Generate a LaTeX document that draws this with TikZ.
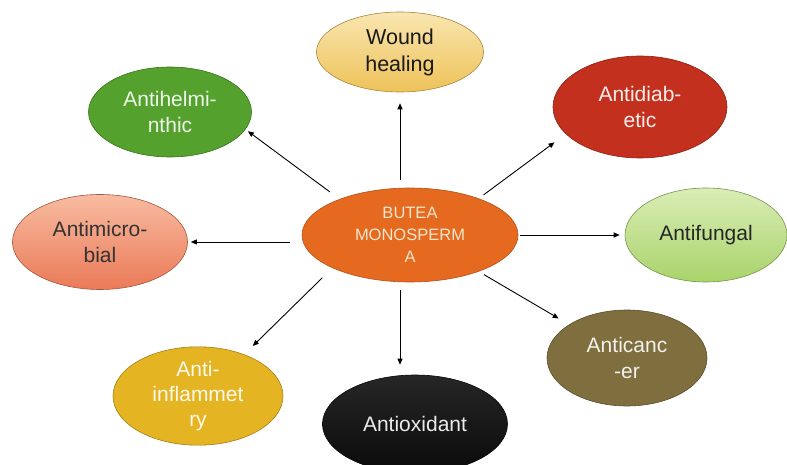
\documentclass[tikz,border=0pt]{standalone}
\usepackage{fontspec}
\setmainfont{Liberation Sans}
\usetikzlibrary{arrows.meta,shapes.geometric}
\definecolor{coreOrange}{HTML}{E5691F}
\definecolor{coreEdge}{HTML}{B4501A}
\definecolor{creamText}{HTML}{F6E6CC}
\definecolor{woundTop}{HTML}{F9E6B0}
\definecolor{woundBot}{HTML}{EEC259}
\definecolor{helmGreen}{HTML}{55A12E}
\definecolor{diabRed}{HTML}{C3301D}
\definecolor{microTop}{HTML}{F8BBA0}
\definecolor{microBot}{HTML}{EA7A58}
\definecolor{fungTop}{HTML}{DAEDB6}
\definecolor{fungBot}{HTML}{A9D36A}
\definecolor{cancOlive}{HTML}{7F6F3F}
\definecolor{inflYellow}{HTML}{E4B423}
\definecolor{oxidBlack}{HTML}{0A0A0A}

\tikzset{
  effect/.style={ellipse,draw=#1!70!black,line width=0.6pt,inner sep=0pt,align=center,
    font=\fontsize{21}{25.5}\selectfont},
  effect/.default=black,
  link/.style={-{Triangle[length=6pt,width=5pt]},line width=0.9pt,shorten <=8pt,shorten >=8pt}
}

\begin{document}
\begin{tikzpicture}[x=1pt,y=-1pt]
  \useasboundingbox (0,0) rectangle (787,465);
  % centre
  \node[ellipse,draw=coreEdge,fill=coreOrange,line width=0.6pt,inner sep=0pt,
    minimum width=216pt,minimum height=94pt,align=center,text=creamText,
    font=\fontsize{16.5}{22}\selectfont] (core) at (410,235) {BUTEA\\MONOSPERM\\A};
  % activities
  \node[effect=woundBot,top color=woundTop,bottom color=woundBot,minimum width=167pt,
    minimum height=80pt,text=black!90,font=\fontsize{21.5}{27}\selectfont] (wound) at (400,52) {Wound\\healing};
  \node[effect=helmGreen,fill=helmGreen,minimum width=163pt,minimum height=90pt,
    text=white!90!helmGreen] (helm) at (170,112) {Antihelmi-\\nthic};
  \node[effect=diabRed,fill=diabRed,minimum width=174pt,minimum height=102pt,
    text=white!92!diabRed] (diab) at (640,107) {Antidiab-\\etic};
  \node[effect=microBot,top color=microTop,bottom color=microBot,minimum width=175pt,
    minimum height=95pt,text=black!80] (micro) at (100,242) {Antimicro-\\bial};
  \node[effect=fungBot,top color=fungTop,bottom color=fungBot,minimum width=162pt,
    minimum height=94pt,text=black!85] (fung) at (706,235) {Antifungal};
  \node[effect=cancOlive,fill=cancOlive,minimum width=160pt,minimum height=96pt,
    text=white!90!cancOlive] (canc) at (627,358) {Anticanc\\-er};
  \node[effect=inflYellow,fill=inflYellow,minimum width=170pt,minimum height=88pt,
    text=white!92!inflYellow,font=\fontsize{21}{25}\selectfont] (infl) at (198,396) {Anti-\\inflammet\\ry};
  \node[effect=oxidBlack,top color=black!85,bottom color=oxidBlack,minimum width=185pt,
    minimum height=98pt,text=white!92!black] (oxid) at (415,424) {Antioxidant};

  % arrows
  \draw[link,shorten >=11pt] (core.north -| wound.south) -- (wound.south);
  \draw[link,shorten <=12pt,shorten >=3pt] (core.153) -- (helm.-13);
  \draw[link,shorten <=6pt,shorten >=14pt] (core.28) -- (diab.200);
  \draw[link,shorten <=12pt,shorten >=3pt] (core.west |- micro.east) -- (micro.east);
  \draw[link,shorten <=2pt,shorten >=5pt] (core.east) -- (fung.west);
  \draw[link,shorten <=6pt,shorten >=12pt] (core.-28) -- (canc.150);
  \draw[link,shorten <=14pt,shorten >=12pt] (core.203) -- (infl.42);
  \draw[link,shorten >=10pt] (core.south -| wound.south) -- (oxid.north -| wound.south);
\end{tikzpicture}
\end{document}
